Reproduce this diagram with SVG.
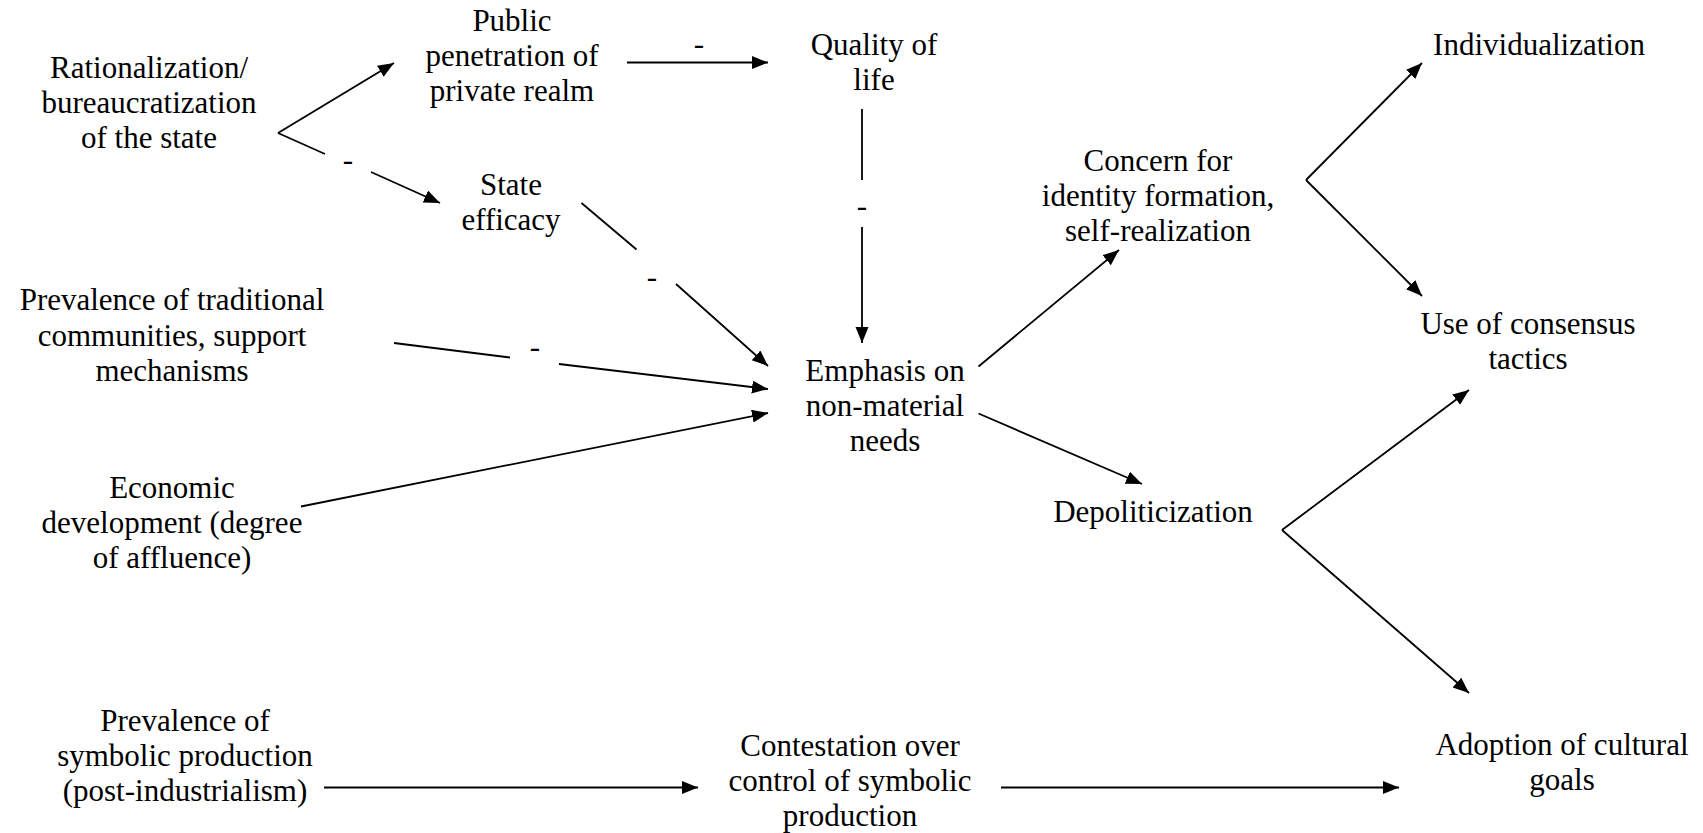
<svg xmlns="http://www.w3.org/2000/svg" width="1703" height="833" viewBox="0 0 1703 833" font-family="Liberation Serif, serif">
<defs>
<style>
text{font-family:'Liberation Serif',serif;font-size:31px;fill:#000;text-anchor:middle}
.c{stroke:#000;stroke-width:1.8;fill:none}
.a{marker-end:url(#ah)}
</style>
<marker id="ah" markerUnits="userSpaceOnUse" markerWidth="18" markerHeight="14" refX="16" refY="6.5" orient="auto">
<path d="M0,0 L16,6.5 L0,13 z" fill="#000"/>
</marker>
</defs>
<rect width="1703" height="833" fill="#fff"/>
<g id="n-rational"><text x="149" y="78">Rationalization/</text><text x="149" y="113">bureaucratization</text><text x="149" y="148">of the state</text></g>
<g id="n-public"><text x="512" y="31">Public</text><text x="512" y="66">penetration of</text><text x="512" y="101">private realm</text></g>
<g id="n-state"><text x="511" y="195">State</text><text x="511" y="230">efficacy</text></g>
<g id="n-quality"><text x="874" y="55">Quality of</text><text x="874" y="90">life</text></g>
<g id="n-emphasis"><text x="885" y="381">Emphasis on</text><text x="885" y="416">non-material</text><text x="885" y="451">needs</text></g>
<g id="n-concern"><text x="1158" y="171">Concern for</text><text x="1158" y="206">identity formation,</text><text x="1158" y="241">self-realization</text></g>
<g id="n-individ"><text x="1539" y="55">Individualization</text></g>
<g id="n-consensus"><text x="1528" y="334">Use of consensus</text><text x="1528" y="369">tactics</text></g>
<g id="n-depol"><text x="1153" y="522">Depoliticization</text></g>
<g id="n-traditional"><text x="172" y="310">Prevalence of traditional</text><text x="172" y="346">communities, support</text><text x="172" y="381">mechanisms</text></g>
<g id="n-economic"><text x="172" y="498">Economic</text><text x="172" y="533">development (degree</text><text x="172" y="568">of affluence)</text></g>
<g id="n-symbolic"><text x="185" y="731">Prevalence of</text><text x="185" y="766">symbolic production</text><text x="185" y="801">(post-industrialism)</text></g>
<g id="n-contest"><text x="850" y="756">Contestation over</text><text x="850" y="791">control of symbolic</text><text x="850" y="826">production</text></g>
<g id="n-adoption"><text x="1562" y="755">Adoption of cultural</text><text x="1562" y="790">goals</text></g>
<g id="connectors">
<line class="c a" x1="278" y1="133" x2="394" y2="63"/>
<line class="c" x1="278" y1="133" x2="325" y2="154"/>
<line class="c a" x1="371" y1="172" x2="440" y2="203"/>
<text x="348" y="170">-</text>
<line class="c a" x1="627" y1="62.5" x2="768" y2="62.5"/>
<text x="699" y="54">-</text>
<line class="c" x1="862" y1="109" x2="862" y2="180"/>
<line class="c a" x1="862" y1="227" x2="862" y2="343"/>
<text x="862" y="216">-</text>
<line class="c" x1="581.5" y1="203" x2="636.5" y2="249.5"/>
<line class="c a" x1="676" y1="284" x2="768" y2="366"/>
<text x="652" y="287">-</text>
<line class="c" x1="394" y1="343" x2="510" y2="357.5"/>
<line class="c a" x1="559" y1="364" x2="768" y2="389"/>
<text x="535" y="357">-</text>
<line class="c a" x1="301" y1="506.5" x2="768" y2="413"/>
<line class="c a" x1="978.5" y1="366.5" x2="1119" y2="250"/>
<line class="c a" x1="978.5" y1="413.5" x2="1142" y2="484"/>
<line class="c a" x1="1306" y1="180" x2="1422" y2="63"/>
<line class="c a" x1="1306" y1="180" x2="1422" y2="296"/>
<line class="c a" x1="1282" y1="530" x2="1469" y2="390"/>
<line class="c a" x1="1282" y1="530" x2="1469" y2="693"/>
<line class="c a" x1="324" y1="787.5" x2="698" y2="787.5"/>
<line class="c a" x1="1001" y1="787.5" x2="1399" y2="787.5"/>
</g>
</svg>
